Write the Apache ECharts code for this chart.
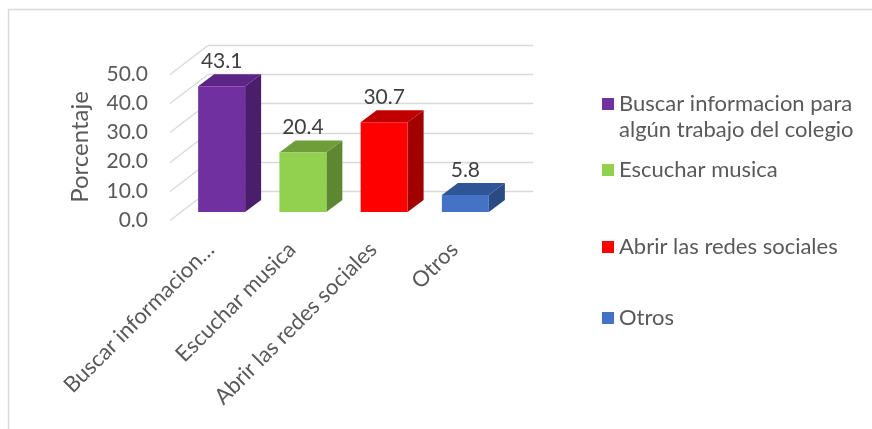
<!DOCTYPE html>
<html>
<head>
<meta charset="utf-8">
<script src="https://cdn.jsdelivr.net/npm/echarts@6/dist/echarts.min.js"></script>
<style>html,body{margin:0;padding:0;background:#fff;}#c{width:872px;height:429px;}</style>
</head>
<body>
<div id="c"></div>
<script>
var categories = ['Buscar informacion para algún trabajo del colegio', 'Escuchar musica', 'Abrir las redes sociales', 'Otros'];
var tickLabels = ['Buscar informacion…', 'Escuchar musica', 'Abrir las redes sociales', 'Otros'];
var legendLines = [['Buscar informacion para', 'algún trabajo del colegio'], ['Escuchar musica'], ['Abrir las redes sociales'], ['Otros']];
var values = [43.1, 20.4, 30.7, 5.8];
var yTicks = [0, 10, 20, 30, 40, 50];
var frontColors = ['#7030A0', '#92D050', '#FF0000', '#4472C4'];
var topColors = ['#5A2587', '#6F9D3A', '#C00000', '#2F5597'];
var sideColors = ['#4A1E6B', '#5E8731', '#A00000', '#2A4A82'];

var FONT = 'Lato';
var TXT = '#595959';
var WALL = {dx: 38, dy: -29};
var BAR_OFF = {dx: 11, dy: -8};
var BAR_DEPTH = {dx: 16, dy: -12};

var chart = echarts.init(document.getElementById('c'));

function wallRender(params, api) {
  var t = api.value(1);
  var p = api.coord([0, t]);
  var band = api.size([1, 0])[0];
  var left = p[0] - band / 2;
  var right = left + band * categories.length;
  var y = Math.round(p[1]) + 0.5;
  return {
    type: 'group',
    children: [
      {type: 'line', shape: {x1: left, y1: y, x2: left + WALL.dx, y2: y + WALL.dy}, style: {stroke: '#D9D9D9', lineWidth: 1.3}},
      {type: 'line', shape: {x1: left + WALL.dx, y1: y + WALL.dy, x2: right + WALL.dx, y2: y + WALL.dy}, style: {stroke: '#D9D9D9', lineWidth: 1.3}}
    ]
  };
}

function barRender(params, api) {
  var i = api.value(0);
  var v = api.value(1);
  var top = api.coord([i, v]);
  var base = api.coord([i, 0]);
  var band = api.size([1, 0])[0];
  var w = band * 0.578;
  var x0 = top[0] - w / 2 + BAR_OFF.dx;
  var x1 = x0 + w;
  var yt = top[1] + BAR_OFF.dy;
  var yb = base[1] + BAR_OFF.dy;
  var ddx = BAR_DEPTH.dx, ddy = BAR_DEPTH.dy;
  return {
    type: 'group',
    children: [
      {type: 'polygon', shape: {points: [[x1, yt], [x1 + ddx, yt + ddy], [x1 + ddx, yb + ddy], [x1, yb]]}, style: {fill: sideColors[i]}},
      {type: 'polygon', shape: {points: [[x0, yt], [x1, yt], [x1 + ddx, yt + ddy], [x0 + ddx, yt + ddy]]}, style: {fill: topColors[i]}},
      {type: 'rect', shape: {x: x0, y: yt, width: w, height: yb - yt}, style: {fill: frontColors[i]}},
      {type: 'text', style: {text: v.toFixed(1), x: (x0 + x1) / 2, y: yt - 25, align: 'center', verticalAlign: 'middle', fill: '#404040', font: '21px ' + FONT}}
    ]
  };
}

var series = [{
  type: 'custom',
  name: '_wall',
  renderItem: wallRender,
  data: yTicks.map(function (t) { return [0, t]; }),
  encode: {x: 0, y: 1},
  silent: true,
  z: 1
}];
categories.forEach(function (c, i) {
  series.push({
    type: 'custom',
    name: c,
    renderItem: barRender,
    data: [[i, values[i]]],
    encode: {x: 0, y: 1},
    itemStyle: {color: frontColors[i]},
    z: 2
  });
});

var LH = 26;
var legendTops = [65, 157, 234, 305];
var legends = categories.map(function (c, i) {
  var lines = legendLines[i];
  return {
    data: [{name: c, icon: 'rect'}],
    left: 602,
    top: legendTops[i],
    padding: 0,
    itemWidth: 12,
    itemHeight: 12,
    itemGap: 0,
    selectedMode: false,
    formatter: function () {
      if (lines.length > 1) {
        return '{p| }\n{a|' + lines.join('}\n{a|') + '}';
      }
      return '{a|' + lines[0] + '}';
    },
    textStyle: {
      fontFamily: FONT, fontSize: 22, color: TXT, lineHeight: LH,
      rich: {
        a: {fontFamily: FONT, fontSize: 22, color: TXT, lineHeight: LH},
        p: {fontFamily: FONT, fontSize: 22, lineHeight: LH}
      }
    }
  };
});

chart.setOption({
  animation: false,
  backgroundColor: '#fff',
  grid: {left: 170, right: 377, top: 74, bottom: 209},
  xAxis: {
    type: 'category',
    data: categories,
    axisLine: {show: false},
    axisTick: {show: false},
    splitLine: {show: false},
    axisLabel: {
      interval: 0,
      rotate: 45,
      margin: 26,
      color: TXT,
      fontFamily: FONT,
      fontSize: 22,
      formatter: function (v, idx) { return tickLabels[idx]; }
    }
  },
  yAxis: {
    type: 'value',
    min: 0,
    max: 50,
    interval: 10,
    name: 'Porcentaje',
    nameLocation: 'middle',
    nameRotate: 90,
    nameGap: 78,
    nameTextStyle: {color: TXT, fontFamily: FONT, fontSize: 24},
    axisLine: {show: false},
    axisTick: {show: false},
    splitLine: {show: false},
    axisLabel: {
      margin: 22,
      color: TXT,
      fontFamily: FONT,
      fontSize: 21,
      formatter: function (v) { return v.toFixed(1); }
    }
  },
  legend: legends,
  graphic: [
    {type: 'line', shape: {x1: 8, y1: 9.5, x2: 872, y2: 9.5}, style: {stroke: '#D9D9D9', lineWidth: 1.5}, silent: true},
    {type: 'line', shape: {x1: 8.5, y1: 9, x2: 8.5, y2: 429}, style: {stroke: '#D9D9D9', lineWidth: 1.5}, silent: true}
  ],
  series: series
});
</script>
</body>
</html>
